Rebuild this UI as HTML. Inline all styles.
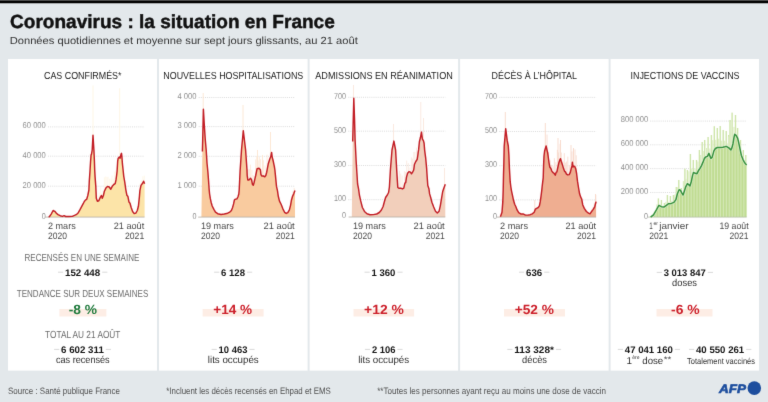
<!DOCTYPE html>
<html><head><meta charset="utf-8"><title>Coronavirus : la situation en France</title>
<style>html,body{margin:0;padding:0;background:#e3e8eb;}svg{display:block;}text{font-family:"Liberation Sans", sans-serif;}</style>
</head><body>
<svg width="768" height="402" viewBox="0 0 768 402" text-rendering="geometricPrecision">
<defs><filter id="soft" filterUnits="userSpaceOnUse" x="0" y="0" width="768" height="402" color-interpolation-filters="sRGB"><feConvolveMatrix order="3" kernelMatrix="1 10 1 10 100 10 1 10 1" divisor="144" edgeMode="duplicate"/></filter></defs>
<g filter="url(#soft)">
<rect x="0" y="0" width="768" height="402" fill="#e3e8eb"/>
<rect x="0" y="0" width="768" height="1" fill="#505050"/>
<rect x="0" y="1" width="768" height="2" fill="#000"/>
<rect x="0" y="3" width="768" height="1" fill="#a8abad"/>
<rect x="8" y="59" width="149.0" height="311.6" fill="#fff"/>
<rect x="159" y="59" width="148.6" height="311.6" fill="#fff"/>
<rect x="309.6" y="59" width="148.5" height="311.6" fill="#fff"/>
<rect x="460.1" y="59" width="148.5" height="311.6" fill="#fff"/>
<rect x="610.6" y="59" width="148.4" height="311.6" fill="#fff"/>
<text x="10.0" y="27.6" font-size="19" font-weight="bold" fill="#111" textLength="324.8" lengthAdjust="spacingAndGlyphs" stroke="#111" stroke-width="0.45">Coronavirus : la situation en France</text>
<text x="9.7" y="43.7" font-size="10.3" fill="#333" textLength="348.1" lengthAdjust="spacingAndGlyphs">Données quotidiennes et moyenne sur sept jours glissants, au 21 août</text>
<text x="44.0" y="78.7" font-size="10.2" fill="#1e1e1e" textLength="77.5" lengthAdjust="spacingAndGlyphs">CAS CONFIRMÉS*</text>
<text x="163.3" y="78.7" font-size="10.2" fill="#1e1e1e" textLength="140.0" lengthAdjust="spacingAndGlyphs">NOUVELLES HOSPITALISATIONS</text>
<text x="315.3" y="78.7" font-size="10.2" fill="#1e1e1e" textLength="137.5" lengthAdjust="spacingAndGlyphs">ADMISSIONS EN RÉANIMATION</text>
<text x="491.6" y="78.7" font-size="10.2" fill="#1e1e1e" textLength="85.4" lengthAdjust="spacingAndGlyphs">DÉCÈS À L’HÔPITAL</text>
<text x="630.5" y="78.7" font-size="10.2" fill="#1e1e1e" textLength="109.0" lengthAdjust="spacingAndGlyphs">INJECTIONS DE VACCINS</text>
<line x1="48.0" y1="126.9" x2="144.6" y2="126.9" stroke="#d8d8d8" stroke-width="0.9" stroke-dasharray="1 1.1"/>
<text x="22.6" y="128.2" font-size="8.5" fill="#8f8f8f" textLength="23.2" lengthAdjust="spacingAndGlyphs">60 000</text>
<line x1="48.0" y1="156.2" x2="144.6" y2="156.2" stroke="#d8d8d8" stroke-width="0.9" stroke-dasharray="1 1.1"/>
<text x="22.6" y="157.5" font-size="8.5" fill="#8f8f8f" textLength="23.2" lengthAdjust="spacingAndGlyphs">40 000</text>
<line x1="48.0" y1="186.2" x2="144.6" y2="186.2" stroke="#d8d8d8" stroke-width="0.9" stroke-dasharray="1 1.1"/>
<text x="22.6" y="187.5" font-size="8.5" fill="#8f8f8f" textLength="23.2" lengthAdjust="spacingAndGlyphs">20 000</text>
<text x="41.8" y="218.5" font-size="8.5" fill="#8f8f8f" textLength="4.0" lengthAdjust="spacingAndGlyphs">0</text>
<line x1="98.0" y1="202.0" x2="98.0" y2="195.5" stroke="#fef5e2" stroke-width="0.8"/>
<line x1="99.3" y1="200.5" x2="99.3" y2="192.6" stroke="#fef5e2" stroke-width="0.8"/>
<line x1="100.7" y1="197.7" x2="100.7" y2="186.9" stroke="#fef5e2" stroke-width="0.8"/>
<line x1="101.7" y1="197.3" x2="101.7" y2="193.3" stroke="#fef5e2" stroke-width="0.8"/>
<line x1="103.2" y1="196.9" x2="103.2" y2="190.2" stroke="#fef5e2" stroke-width="0.8"/>
<line x1="104.4" y1="192.3" x2="104.4" y2="177.4" stroke="#fef5e2" stroke-width="0.8"/>
<line x1="105.7" y1="189.6" x2="105.7" y2="176.4" stroke="#fef5e2" stroke-width="0.8"/>
<line x1="106.9" y1="188.0" x2="106.9" y2="177.0" stroke="#fef5e2" stroke-width="0.8"/>
<line x1="108.0" y1="187.6" x2="108.0" y2="176.7" stroke="#fef5e2" stroke-width="0.8"/>
<line x1="109.6" y1="188.5" x2="109.6" y2="178.8" stroke="#fef5e2" stroke-width="0.8"/>
<line x1="111.0" y1="189.8" x2="111.0" y2="178.5" stroke="#fef5e2" stroke-width="0.8"/>
<line x1="112.0" y1="187.8" x2="112.0" y2="175.5" stroke="#fef5e2" stroke-width="0.8"/>
<line x1="113.4" y1="185.9" x2="113.4" y2="178.8" stroke="#fef5e2" stroke-width="0.8"/>
<line x1="114.4" y1="185.2" x2="114.4" y2="171.7" stroke="#fef5e2" stroke-width="0.8"/>
<line x1="115.7" y1="182.4" x2="115.7" y2="170.5" stroke="#fef5e2" stroke-width="0.8"/>
<line x1="124.0" y1="178.7" x2="124.0" y2="173.1" stroke="#fef5e2" stroke-width="0.8"/>
<line x1="125.6" y1="188.8" x2="125.6" y2="184.7" stroke="#fef5e2" stroke-width="0.8"/>
<line x1="127.0" y1="196.4" x2="127.0" y2="192.1" stroke="#fef5e2" stroke-width="0.8"/>
<line x1="128.6" y1="201.0" x2="128.6" y2="194.6" stroke="#fef5e2" stroke-width="0.8"/>
<line x1="129.7" y1="203.8" x2="129.7" y2="201.0" stroke="#fef5e2" stroke-width="0.8"/>
<line x1="130.8" y1="207.1" x2="130.8" y2="200.3" stroke="#fef5e2" stroke-width="0.8"/>
<line x1="139.0" y1="201.7" x2="139.0" y2="193.6" stroke="#fef5e2" stroke-width="0.8"/>
<line x1="140.2" y1="190.3" x2="140.2" y2="183.2" stroke="#fef5e2" stroke-width="0.8"/>
<line x1="141.4" y1="185.9" x2="141.4" y2="180.1" stroke="#fef5e2" stroke-width="0.8"/>
<line x1="142.8" y1="184.0" x2="142.8" y2="176.3" stroke="#fef5e2" stroke-width="0.8"/>
<line x1="144.3" y1="184.0" x2="144.3" y2="175.6" stroke="#fef5e2" stroke-width="0.8"/>
<line x1="93" y1="217.1" x2="93" y2="85.5" stroke="#fef5e2" stroke-width="0.9"/>
<line x1="119.7" y1="217.1" x2="119.7" y2="88.2" stroke="#fef5e2" stroke-width="0.9"/>
<polygon points="48.2,217.1 48.6,217 49.3,216.7 51.2,214.1 53.1,210.5 54.8,211.3 56.4,213.25 58,214.6 60.2,215.7 62.4,216.4 64.1,215.7 65.7,216.5 69,216.5 72.3,216.4 74.5,215.4 76.7,214.3 78.3,212.7 80,209.7 81.6,206.7 83.2,203.7 84.3,201.5 85.6,199.9 86.7,199.3 87.8,195.5 88.9,190 89.3,181 90,171 90.6,161 91.1,154.9 91.5,154.2 92.2,150 93,135.2 93.9,150 94.4,161 94.7,170 95.1,177.1 95.8,186.4 96.3,198.2 97.4,201.2 98.8,200.7 100.4,197.1 101.5,195.5 102.3,198.2 103.4,195.5 104.4,191.2 105.9,188.1 107.5,186.4 109.2,187 110.8,189.2 112.5,185.9 113.8,184.5 115.2,183.7 116,179.9 116.6,175.5 117.1,171.1 117.7,161 118.2,158.2 119.3,157.1 120.1,158.2 121,154.4 121.5,153.3 121.9,156.6 122.4,163.7 123.1,170 123.7,176 124.8,182.3 125.8,189.6 126.9,195.3 127.9,196.4 128.4,199 129,202.1 130,203.2 131.1,207.3 132.6,211.5 134.2,213.6 135.8,213.1 137.3,210.5 138.4,206.3 139.4,196.9 139.9,190.6 141,185.4 142.6,183.3 143.6,181.2 144.6,183.8 144.6,217.1" fill="#fce4a8"/>
<line x1="45.0" y1="217.1" x2="144.6" y2="217.1" stroke="#b7b0a6" stroke-width="1" opacity="0.85"/>
<polyline points="48.6,217 49.3,216.7 51.2,214.1 53.1,210.5 54.8,211.3 56.4,213.25 58,214.6 60.2,215.7 62.4,216.4 64.1,215.7 65.7,216.5 69,216.5 72.3,216.4 74.5,215.4 76.7,214.3 78.3,212.7 80,209.7 81.6,206.7 83.2,203.7 84.3,201.5 85.6,199.9 86.7,199.3 87.8,195.5 88.9,190 89.3,181 90,171 90.6,161 91.1,154.9 91.5,154.2 92.2,150 93,135.2 93.9,150 94.4,161 94.7,170 95.1,177.1 95.8,186.4 96.3,198.2 97.4,201.2 98.8,200.7 100.4,197.1 101.5,195.5 102.3,198.2 103.4,195.5 104.4,191.2 105.9,188.1 107.5,186.4 109.2,187 110.8,189.2 112.5,185.9 113.8,184.5 115.2,183.7 116,179.9 116.6,175.5 117.1,171.1 117.7,161 118.2,158.2 119.3,157.1 120.1,158.2 121,154.4 121.5,153.3 121.9,156.6 122.4,163.7 123.1,170 123.7,176 124.8,182.3 125.8,189.6 126.9,195.3 127.9,196.4 128.4,199 129,202.1 130,203.2 131.1,207.3 132.6,211.5 134.2,213.6 135.8,213.1 137.3,210.5 138.4,206.3 139.4,196.9 139.9,190.6 141,185.4 142.6,183.3 143.6,181.2 144.6,183.8" fill="none" stroke="#c21e26" stroke-width="1.45" stroke-linejoin="round"/>
<text x="48.0" y="229.1" font-size="9.4" fill="#4a4a4a" textLength="27.7" lengthAdjust="spacingAndGlyphs">2 mars</text>
<text x="48.0" y="239.4" font-size="9.4" fill="#4a4a4a" textLength="18.9" lengthAdjust="spacingAndGlyphs">2020</text>
<text x="113.7" y="229.1" font-size="9.4" fill="#4a4a4a" textLength="30.5" lengthAdjust="spacingAndGlyphs">21 août</text>
<text x="125.0" y="239.4" font-size="9.4" fill="#4a4a4a" textLength="19.2" lengthAdjust="spacingAndGlyphs">2021</text>
<line x1="198.7" y1="97.5" x2="295.0" y2="97.5" stroke="#d8d8d8" stroke-width="0.9" stroke-dasharray="1 1.1"/>
<text x="177.4" y="98.8" font-size="8.5" fill="#8f8f8f" textLength="19.1" lengthAdjust="spacingAndGlyphs">4 000</text>
<line x1="198.7" y1="126.6" x2="295.0" y2="126.6" stroke="#d8d8d8" stroke-width="0.9" stroke-dasharray="1 1.1"/>
<text x="177.4" y="127.9" font-size="8.5" fill="#8f8f8f" textLength="19.1" lengthAdjust="spacingAndGlyphs">3 000</text>
<line x1="198.7" y1="156.3" x2="295.0" y2="156.3" stroke="#d8d8d8" stroke-width="0.9" stroke-dasharray="1 1.1"/>
<text x="177.4" y="157.6" font-size="8.5" fill="#8f8f8f" textLength="19.1" lengthAdjust="spacingAndGlyphs">2 000</text>
<line x1="198.7" y1="186.2" x2="295.0" y2="186.2" stroke="#d8d8d8" stroke-width="0.9" stroke-dasharray="1 1.1"/>
<text x="177.4" y="187.5" font-size="8.5" fill="#8f8f8f" textLength="19.1" lengthAdjust="spacingAndGlyphs">1 000</text>
<text x="192.5" y="218.5" font-size="8.5" fill="#8f8f8f" textLength="4.0" lengthAdjust="spacingAndGlyphs">0</text>
<line x1="248.0" y1="180.9" x2="248.0" y2="169.4" stroke="#fce5d0" stroke-width="0.8"/>
<line x1="249.3" y1="180.7" x2="249.3" y2="169.1" stroke="#fce5d0" stroke-width="0.8"/>
<line x1="250.4" y1="179.3" x2="250.4" y2="164.7" stroke="#fce5d0" stroke-width="0.8"/>
<line x1="251.9" y1="182.4" x2="251.9" y2="169.8" stroke="#fce5d0" stroke-width="0.8"/>
<line x1="253.0" y1="185.9" x2="253.0" y2="175.0" stroke="#fce5d0" stroke-width="0.8"/>
<line x1="254.2" y1="183.3" x2="254.2" y2="175.9" stroke="#fce5d0" stroke-width="0.8"/>
<line x1="255.7" y1="176.3" x2="255.7" y2="159.4" stroke="#fce5d0" stroke-width="0.8"/>
<line x1="256.8" y1="171.3" x2="256.8" y2="156.1" stroke="#fce5d0" stroke-width="0.8"/>
<line x1="258.1" y1="169.4" x2="258.1" y2="160.4" stroke="#fce5d0" stroke-width="0.8"/>
<line x1="259.3" y1="169.6" x2="259.3" y2="156.8" stroke="#fce5d0" stroke-width="0.8"/>
<line x1="260.6" y1="172.3" x2="260.6" y2="159.3" stroke="#fce5d0" stroke-width="0.8"/>
<line x1="262.0" y1="177.0" x2="262.0" y2="171.1" stroke="#fce5d0" stroke-width="0.8"/>
<line x1="263.4" y1="177.0" x2="263.4" y2="160.2" stroke="#fce5d0" stroke-width="0.8"/>
<line x1="265.0" y1="177.5" x2="265.0" y2="165.5" stroke="#fce5d0" stroke-width="0.8"/>
<line x1="266.0" y1="175.6" x2="266.0" y2="171.4" stroke="#fce5d0" stroke-width="0.8"/>
<line x1="267.1" y1="171.0" x2="267.1" y2="154.7" stroke="#fce5d0" stroke-width="0.8"/>
<line x1="272.0" y1="156.8" x2="272.0" y2="151.8" stroke="#fce5d0" stroke-width="0.8"/>
<line x1="273.5" y1="163.7" x2="273.5" y2="159.1" stroke="#fce5d0" stroke-width="0.8"/>
<line x1="274.9" y1="170.8" x2="274.9" y2="165.4" stroke="#fce5d0" stroke-width="0.8"/>
<line x1="275.9" y1="181.3" x2="275.9" y2="175.0" stroke="#fce5d0" stroke-width="0.8"/>
<line x1="292.0" y1="199.3" x2="292.0" y2="195.7" stroke="#fce5d0" stroke-width="0.8"/>
<line x1="293.1" y1="196.1" x2="293.1" y2="190.9" stroke="#fce5d0" stroke-width="0.8"/>
<line x1="294.2" y1="193.6" x2="294.2" y2="187.9" stroke="#fce5d0" stroke-width="0.8"/>
<line x1="203.2" y1="217.1" x2="203.2" y2="93" stroke="#fce5d0" stroke-width="0.9"/>
<line x1="243" y1="217.1" x2="243" y2="105" stroke="#fce5d0" stroke-width="0.9"/>
<line x1="270.5" y1="217.1" x2="270.5" y2="132" stroke="#fce5d0" stroke-width="0.9"/>
<line x1="257.5" y1="217.1" x2="257.5" y2="150" stroke="#fce5d0" stroke-width="0.9"/>
<line x1="262.5" y1="217.1" x2="262.5" y2="155" stroke="#fce5d0" stroke-width="0.9"/>
<polygon points="201.4,217.1 202.4,151.6 202.7,140 203.4,109.3 204.3,125 205.3,140 206.2,150 207,163 207.9,172 208.5,180 209.2,190 209.6,194 210.3,198.4 211.1,202.2 212.2,206 213.9,209.3 215.5,212.1 217.7,213.7 221,214.5 224.3,214 227.6,213.2 229.8,212.1 231.4,210.4 232.5,207.7 233.6,203.9 234.4,200 235.2,199.2 236.9,198.9 238,196.7 238.8,194 239.2,190 240.1,171 241.5,150 243.3,130.8 245.6,150 247,170 247.2,175.5 247.8,179.9 249.1,179.9 250.5,178.2 251.6,179.9 252.4,184.2 253.3,185.3 254.1,182.6 254.9,178.8 255.7,175.5 256.5,171.6 257.1,168.6 259,168.3 260.4,169.7 260.9,174.4 261.7,176 263.4,176 264.8,176.8 265.8,175.5 266.7,172.2 268.3,163.7 269.7,159.3 270.8,156.6 271.6,152.5 272.1,156.6 273.2,161 274.3,166.4 274.9,170 275.7,178.2 276.5,186.4 277.5,190.8 278.3,196.3 279.5,201.1 281.1,204.3 283,209.1 284.6,212.3 286.2,213.4 287.8,212.7 289.4,209.9 290.6,205.1 291.4,200.3 292.6,196.3 293.8,193.6 295,190.4 295,217.1" fill="#f9cb9f"/>
<line x1="198.2" y1="217.1" x2="295.0" y2="217.1" stroke="#b7b0a6" stroke-width="1" opacity="0.85"/>
<polyline points="202.4,151.6 202.7,140 203.4,109.3 204.3,125 205.3,140 206.2,150 207,163 207.9,172 208.5,180 209.2,190 209.6,194 210.3,198.4 211.1,202.2 212.2,206 213.9,209.3 215.5,212.1 217.7,213.7 221,214.5 224.3,214 227.6,213.2 229.8,212.1 231.4,210.4 232.5,207.7 233.6,203.9 234.4,200 235.2,199.2 236.9,198.9 238,196.7 238.8,194 239.2,190 240.1,171 241.5,150 243.3,130.8 245.6,150 247,170 247.2,175.5 247.8,179.9 249.1,179.9 250.5,178.2 251.6,179.9 252.4,184.2 253.3,185.3 254.1,182.6 254.9,178.8 255.7,175.5 256.5,171.6 257.1,168.6 259,168.3 260.4,169.7 260.9,174.4 261.7,176 263.4,176 264.8,176.8 265.8,175.5 266.7,172.2 268.3,163.7 269.7,159.3 270.8,156.6 271.6,152.5 272.1,156.6 273.2,161 274.3,166.4 274.9,170 275.7,178.2 276.5,186.4 277.5,190.8 278.3,196.3 279.5,201.1 281.1,204.3 283,209.1 284.6,212.3 286.2,213.4 287.8,212.7 289.4,209.9 290.6,205.1 291.4,200.3 292.6,196.3 293.8,193.6 295,190.4" fill="none" stroke="#c21e26" stroke-width="1.45" stroke-linejoin="round"/>
<text x="201.0" y="229.1" font-size="9.4" fill="#4a4a4a" textLength="32.8" lengthAdjust="spacingAndGlyphs">19 mars</text>
<text x="201.0" y="239.4" font-size="9.4" fill="#4a4a4a" textLength="18.9" lengthAdjust="spacingAndGlyphs">2020</text>
<text x="263.5" y="229.1" font-size="9.4" fill="#4a4a4a" textLength="31.2" lengthAdjust="spacingAndGlyphs">21 août</text>
<text x="275.7" y="239.4" font-size="9.4" fill="#4a4a4a" textLength="19.0" lengthAdjust="spacingAndGlyphs">2021</text>
<line x1="348.3" y1="97.3" x2="445.3" y2="97.3" stroke="#d8d8d8" stroke-width="0.9" stroke-dasharray="1 1.1"/>
<text x="334.1" y="98.6" font-size="8.5" fill="#8f8f8f" textLength="12.0" lengthAdjust="spacingAndGlyphs">700</text>
<line x1="348.3" y1="131.2" x2="445.3" y2="131.2" stroke="#d8d8d8" stroke-width="0.9" stroke-dasharray="1 1.1"/>
<text x="334.1" y="132.5" font-size="8.5" fill="#8f8f8f" textLength="12.0" lengthAdjust="spacingAndGlyphs">500</text>
<line x1="348.3" y1="165.5" x2="445.3" y2="165.5" stroke="#d8d8d8" stroke-width="0.9" stroke-dasharray="1 1.1"/>
<text x="334.1" y="166.8" font-size="8.5" fill="#8f8f8f" textLength="12.0" lengthAdjust="spacingAndGlyphs">300</text>
<line x1="348.3" y1="199.7" x2="445.3" y2="199.7" stroke="#d8d8d8" stroke-width="0.9" stroke-dasharray="1 1.1"/>
<text x="334.1" y="201.0" font-size="8.5" fill="#8f8f8f" textLength="12.0" lengthAdjust="spacingAndGlyphs">100</text>
<text x="342.1" y="218.4" font-size="8.5" fill="#8f8f8f" textLength="4.0" lengthAdjust="spacingAndGlyphs">0</text>
<line x1="398.0" y1="188.6" x2="398.0" y2="176.5" stroke="#f9e6dc" stroke-width="0.8"/>
<line x1="399.5" y1="189.3" x2="399.5" y2="170.8" stroke="#f9e6dc" stroke-width="0.8"/>
<line x1="400.7" y1="189.1" x2="400.7" y2="173.5" stroke="#f9e6dc" stroke-width="0.8"/>
<line x1="402.1" y1="189.7" x2="402.1" y2="175.6" stroke="#f9e6dc" stroke-width="0.8"/>
<line x1="403.1" y1="189.5" x2="403.1" y2="184.5" stroke="#f9e6dc" stroke-width="0.8"/>
<line x1="404.4" y1="186.5" x2="404.4" y2="171.1" stroke="#f9e6dc" stroke-width="0.8"/>
<line x1="405.5" y1="183.7" x2="405.5" y2="171.9" stroke="#f9e6dc" stroke-width="0.8"/>
<line x1="406.7" y1="177.3" x2="406.7" y2="160.6" stroke="#f9e6dc" stroke-width="0.8"/>
<line x1="408.3" y1="173.5" x2="408.3" y2="163.1" stroke="#f9e6dc" stroke-width="0.8"/>
<line x1="409.9" y1="173.0" x2="409.9" y2="167.5" stroke="#f9e6dc" stroke-width="0.8"/>
<line x1="411.4" y1="174.6" x2="411.4" y2="157.4" stroke="#f9e6dc" stroke-width="0.8"/>
<line x1="412.5" y1="173.4" x2="412.5" y2="158.6" stroke="#f9e6dc" stroke-width="0.8"/>
<line x1="413.8" y1="170.3" x2="413.8" y2="151.9" stroke="#f9e6dc" stroke-width="0.8"/>
<line x1="414.9" y1="164.3" x2="414.9" y2="151.9" stroke="#f9e6dc" stroke-width="0.8"/>
<line x1="416.5" y1="161.5" x2="416.5" y2="147.7" stroke="#f9e6dc" stroke-width="0.8"/>
<line x1="417.6" y1="157.5" x2="417.6" y2="151.7" stroke="#f9e6dc" stroke-width="0.8"/>
<line x1="425.0" y1="154.0" x2="425.0" y2="147.2" stroke="#f9e6dc" stroke-width="0.8"/>
<line x1="426.6" y1="169.0" x2="426.6" y2="164.8" stroke="#f9e6dc" stroke-width="0.8"/>
<line x1="353.5" y1="217.0" x2="353.5" y2="85" stroke="#f9e6dc" stroke-width="0.9"/>
<line x1="393.5" y1="217.0" x2="393.5" y2="124" stroke="#f9e6dc" stroke-width="0.9"/>
<line x1="420.8" y1="217.0" x2="420.8" y2="102" stroke="#f9e6dc" stroke-width="0.9"/>
<line x1="423.5" y1="217.0" x2="423.5" y2="118" stroke="#f9e6dc" stroke-width="0.9"/>
<line x1="444.5" y1="217.0" x2="444.5" y2="168" stroke="#f9e6dc" stroke-width="0.9"/>
<polygon points="351.8,217.0 352.7,141.6 353.8,98.3 354.5,118 355.1,140 355.6,150 356.2,162 356.9,173 357.6,184 358.6,189.1 359.4,195 360.7,200.9 362.4,207.5 364.5,211.4 367,213.8 370,214.7 373.4,214.6 376.7,214 379.3,212.5 381.4,210 383.1,206.5 384.3,202 385.6,197.5 387.3,195 388.6,192.5 389.4,187 390.4,170 392,150 393.9,141.1 395.6,150 396.7,170 397.2,178.2 397.8,187.5 399.1,188.3 400.8,188.1 402.4,188.9 403.8,188.1 404.9,183.1 405.7,182.6 406.5,177.1 407.6,173.3 409,171.6 410.4,172.2 411.5,173.8 412.6,172.2 413.7,170 414.5,164.2 415.8,161.5 417.2,159.3 417.8,155.5 418.3,151.6 418.6,149.9 419.4,141.7 420.5,137.3 421.5,132.1 422.4,139 423.5,140.9 424.1,143.3 424.6,150 425.7,158.2 426.6,168 427.2,177.2 427.8,185.5 429,189.1 429.6,193.9 430.7,197.5 431.9,202.2 433.7,207 435.5,211.2 437.3,213 439.1,211.2 440.3,205.8 441.5,198.7 442.7,191.5 443.9,187.9 445.3,184.3 445.3,217.0" fill="#f2cfbb"/>
<line x1="348.6" y1="217.0" x2="445.3" y2="217.0" stroke="#b7b0a6" stroke-width="1" opacity="0.85"/>
<polyline points="352.7,141.6 353.8,98.3 354.5,118 355.1,140 355.6,150 356.2,162 356.9,173 357.6,184 358.6,189.1 359.4,195 360.7,200.9 362.4,207.5 364.5,211.4 367,213.8 370,214.7 373.4,214.6 376.7,214 379.3,212.5 381.4,210 383.1,206.5 384.3,202 385.6,197.5 387.3,195 388.6,192.5 389.4,187 390.4,170 392,150 393.9,141.1 395.6,150 396.7,170 397.2,178.2 397.8,187.5 399.1,188.3 400.8,188.1 402.4,188.9 403.8,188.1 404.9,183.1 405.7,182.6 406.5,177.1 407.6,173.3 409,171.6 410.4,172.2 411.5,173.8 412.6,172.2 413.7,170 414.5,164.2 415.8,161.5 417.2,159.3 417.8,155.5 418.3,151.6 418.6,149.9 419.4,141.7 420.5,137.3 421.5,132.1 422.4,139 423.5,140.9 424.1,143.3 424.6,150 425.7,158.2 426.6,168 427.2,177.2 427.8,185.5 429,189.1 429.6,193.9 430.7,197.5 431.9,202.2 433.7,207 435.5,211.2 437.3,213 439.1,211.2 440.3,205.8 441.5,198.7 442.7,191.5 443.9,187.9 445.3,184.3" fill="none" stroke="#c21e26" stroke-width="1.45" stroke-linejoin="round"/>
<text x="353.0" y="229.1" font-size="9.4" fill="#4a4a4a" textLength="32.8" lengthAdjust="spacingAndGlyphs">19 mars</text>
<text x="353.0" y="239.4" font-size="9.4" fill="#4a4a4a" textLength="18.9" lengthAdjust="spacingAndGlyphs">2020</text>
<text x="413.5" y="229.1" font-size="9.4" fill="#4a4a4a" textLength="31.2" lengthAdjust="spacingAndGlyphs">21 août</text>
<text x="425.7" y="239.4" font-size="9.4" fill="#4a4a4a" textLength="19.0" lengthAdjust="spacingAndGlyphs">2021</text>
<line x1="499.3" y1="97.4" x2="596.1" y2="97.4" stroke="#d8d8d8" stroke-width="0.9" stroke-dasharray="1 1.1"/>
<text x="485.1" y="98.7" font-size="8.5" fill="#8f8f8f" textLength="12.0" lengthAdjust="spacingAndGlyphs">700</text>
<line x1="499.3" y1="131.5" x2="596.1" y2="131.5" stroke="#d8d8d8" stroke-width="0.9" stroke-dasharray="1 1.1"/>
<text x="485.1" y="132.8" font-size="8.5" fill="#8f8f8f" textLength="12.0" lengthAdjust="spacingAndGlyphs">500</text>
<line x1="499.3" y1="165.7" x2="596.1" y2="165.7" stroke="#d8d8d8" stroke-width="0.9" stroke-dasharray="1 1.1"/>
<text x="485.1" y="167.0" font-size="8.5" fill="#8f8f8f" textLength="12.0" lengthAdjust="spacingAndGlyphs">300</text>
<line x1="499.3" y1="199.9" x2="596.1" y2="199.9" stroke="#d8d8d8" stroke-width="0.9" stroke-dasharray="1 1.1"/>
<text x="485.1" y="201.2" font-size="8.5" fill="#8f8f8f" textLength="12.0" lengthAdjust="spacingAndGlyphs">100</text>
<text x="493.1" y="218.5" font-size="8.5" fill="#8f8f8f" textLength="4.0" lengthAdjust="spacingAndGlyphs">0</text>
<line x1="547.0" y1="151.0" x2="547.0" y2="134.6" stroke="#f7d8ca" stroke-width="0.8"/>
<line x1="548.5" y1="159.8" x2="548.5" y2="151.9" stroke="#f7d8ca" stroke-width="0.8"/>
<line x1="550.1" y1="168.4" x2="550.1" y2="160.3" stroke="#f7d8ca" stroke-width="0.8"/>
<line x1="551.5" y1="171.3" x2="551.5" y2="164.8" stroke="#f7d8ca" stroke-width="0.8"/>
<line x1="553.0" y1="173.5" x2="553.0" y2="166.1" stroke="#f7d8ca" stroke-width="0.8"/>
<line x1="554.4" y1="174.8" x2="554.4" y2="158.2" stroke="#f7d8ca" stroke-width="0.8"/>
<line x1="555.8" y1="174.3" x2="555.8" y2="162.2" stroke="#f7d8ca" stroke-width="0.8"/>
<line x1="557.4" y1="170.6" x2="557.4" y2="149.8" stroke="#f7d8ca" stroke-width="0.8"/>
<line x1="558.4" y1="165.7" x2="558.4" y2="152.5" stroke="#f7d8ca" stroke-width="0.8"/>
<line x1="560.0" y1="160.6" x2="560.0" y2="143.8" stroke="#f7d8ca" stroke-width="0.8"/>
<line x1="561.3" y1="162.4" x2="561.3" y2="152.5" stroke="#f7d8ca" stroke-width="0.8"/>
<line x1="562.8" y1="167.2" x2="562.8" y2="160.9" stroke="#f7d8ca" stroke-width="0.8"/>
<line x1="564.3" y1="171.6" x2="564.3" y2="153.1" stroke="#f7d8ca" stroke-width="0.8"/>
<line x1="565.4" y1="172.9" x2="565.4" y2="162.7" stroke="#f7d8ca" stroke-width="0.8"/>
<line x1="566.6" y1="175.1" x2="566.6" y2="161.5" stroke="#f7d8ca" stroke-width="0.8"/>
<line x1="567.8" y1="175.9" x2="567.8" y2="156.6" stroke="#f7d8ca" stroke-width="0.8"/>
<line x1="569.4" y1="175.3" x2="569.4" y2="165.2" stroke="#f7d8ca" stroke-width="0.8"/>
<line x1="570.9" y1="171.0" x2="570.9" y2="164.8" stroke="#f7d8ca" stroke-width="0.8"/>
<line x1="571.9" y1="167.1" x2="571.9" y2="151.4" stroke="#f7d8ca" stroke-width="0.8"/>
<line x1="573.4" y1="167.6" x2="573.4" y2="149.5" stroke="#f7d8ca" stroke-width="0.8"/>
<line x1="575.0" y1="168.2" x2="575.0" y2="149.4" stroke="#f7d8ca" stroke-width="0.8"/>
<line x1="576.2" y1="172.2" x2="576.2" y2="155.3" stroke="#f7d8ca" stroke-width="0.8"/>
<line x1="592.0" y1="212.0" x2="592.0" y2="208.8" stroke="#f7d8ca" stroke-width="0.8"/>
<line x1="593.3" y1="210.2" x2="593.3" y2="206.6" stroke="#f7d8ca" stroke-width="0.8"/>
<line x1="594.4" y1="208.4" x2="594.4" y2="202.7" stroke="#f7d8ca" stroke-width="0.8"/>
<line x1="595.8" y1="203.8" x2="595.8" y2="194.9" stroke="#f7d8ca" stroke-width="0.8"/>
<line x1="505.3" y1="217.1" x2="505.3" y2="112" stroke="#f7d8ca" stroke-width="0.9"/>
<line x1="545.3" y1="217.1" x2="545.3" y2="123" stroke="#f7d8ca" stroke-width="0.9"/>
<line x1="558" y1="217.1" x2="558" y2="138" stroke="#f7d8ca" stroke-width="0.9"/>
<line x1="560.5" y1="217.1" x2="560.5" y2="140" stroke="#f7d8ca" stroke-width="0.9"/>
<line x1="571" y1="217.1" x2="571" y2="145" stroke="#f7d8ca" stroke-width="0.9"/>
<line x1="573.5" y1="217.1" x2="573.5" y2="148" stroke="#f7d8ca" stroke-width="0.9"/>
<line x1="595.5" y1="217.1" x2="595.5" y2="194" stroke="#f7d8ca" stroke-width="0.9"/>
<line x1="534.8" y1="217.1" x2="534.8" y2="200" stroke="#f7d8ca" stroke-width="0.9"/>
<polygon points="500.2,217.1 500.4,216.7 502,212.3 502.8,201.9 503.2,190 503.5,175 503.8,165 504.2,146 505.7,128.7 507.2,140.4 508.3,146 508.9,155 509.4,168 510.2,181.7 510.8,186.5 511.5,190.8 512.7,196.4 513.5,200.3 514.7,204.3 515.9,206.7 517.1,209.9 518.7,212.7 520.7,213.9 523.1,213.9 525.5,215.1 527.8,215.1 530.2,214.7 532.2,213.9 534.2,212.3 535.4,209.1 536.6,208.3 538.2,207.5 539.4,205.9 540.2,201.9 541,196.4 541.8,190 542.2,186 543.2,177.9 543.6,165 544,156 544.6,151 546.1,146 547.6,152.6 548.2,156.5 549,162.6 549.8,167 550.9,168.6 551.7,170.8 552.8,172.4 554.2,173.5 555.3,175.2 556.1,172.4 556.9,171.9 557.7,168 558.8,163.1 559.9,159.8 560.5,158.7 561.3,161.5 562.1,163.7 562.9,166.4 563.7,169.1 564.6,171.3 565.4,171.9 566.5,174.1 567.8,174.9 569.2,174.6 570.3,172.4 571.1,169.1 572,165.9 572.4,162.3 573,167 573.9,166.1 574.7,166.4 575.8,169.1 576.6,173.5 577.5,181.2 578.5,187.5 579.6,193.8 580.6,196.9 581.7,199 582.7,204.7 584.3,208.4 586.4,211.5 588.5,213.1 590,213.8 591.6,211.5 593.2,209.4 594.7,206.8 596.1,201.6 596.1,217.1" fill="#efae91"/>
<line x1="497.0" y1="217.1" x2="596.1" y2="217.1" stroke="#b7b0a6" stroke-width="1" opacity="0.85"/>
<polyline points="500.4,216.7 502,212.3 502.8,201.9 503.2,190 503.5,175 503.8,165 504.2,146 505.7,128.7 507.2,140.4 508.3,146 508.9,155 509.4,168 510.2,181.7 510.8,186.5 511.5,190.8 512.7,196.4 513.5,200.3 514.7,204.3 515.9,206.7 517.1,209.9 518.7,212.7 520.7,213.9 523.1,213.9 525.5,215.1 527.8,215.1 530.2,214.7 532.2,213.9 534.2,212.3 535.4,209.1 536.6,208.3 538.2,207.5 539.4,205.9 540.2,201.9 541,196.4 541.8,190 542.2,186 543.2,177.9 543.6,165 544,156 544.6,151 546.1,146 547.6,152.6 548.2,156.5 549,162.6 549.8,167 550.9,168.6 551.7,170.8 552.8,172.4 554.2,173.5 555.3,175.2 556.1,172.4 556.9,171.9 557.7,168 558.8,163.1 559.9,159.8 560.5,158.7 561.3,161.5 562.1,163.7 562.9,166.4 563.7,169.1 564.6,171.3 565.4,171.9 566.5,174.1 567.8,174.9 569.2,174.6 570.3,172.4 571.1,169.1 572,165.9 572.4,162.3 573,167 573.9,166.1 574.7,166.4 575.8,169.1 576.6,173.5 577.5,181.2 578.5,187.5 579.6,193.8 580.6,196.9 581.7,199 582.7,204.7 584.3,208.4 586.4,211.5 588.5,213.1 590,213.8 591.6,211.5 593.2,209.4 594.7,206.8 596.1,201.6" fill="none" stroke="#c21e26" stroke-width="1.45" stroke-linejoin="round"/>
<text x="500.0" y="229.1" font-size="9.4" fill="#4a4a4a" textLength="28.0" lengthAdjust="spacingAndGlyphs">2 mars</text>
<text x="500.0" y="239.4" font-size="9.4" fill="#4a4a4a" textLength="18.9" lengthAdjust="spacingAndGlyphs">2020</text>
<text x="565.4" y="229.1" font-size="9.4" fill="#4a4a4a" textLength="30.7" lengthAdjust="spacingAndGlyphs">21 août</text>
<text x="577.1" y="239.4" font-size="9.4" fill="#4a4a4a" textLength="19.0" lengthAdjust="spacingAndGlyphs">2021</text>
<line x1="650.2" y1="121.1" x2="746" y2="121.1" stroke="#d8d8d8" stroke-width="0.9" stroke-dasharray="1 1.1"/>
<text x="620.8" y="122.4" font-size="8.5" fill="#8f8f8f" textLength="27.3" lengthAdjust="spacingAndGlyphs">800 000</text>
<line x1="650.2" y1="144.8" x2="746" y2="144.8" stroke="#d8d8d8" stroke-width="0.9" stroke-dasharray="1 1.1"/>
<text x="620.8" y="146.1" font-size="8.5" fill="#8f8f8f" textLength="27.3" lengthAdjust="spacingAndGlyphs">600 000</text>
<line x1="650.2" y1="168.6" x2="746" y2="168.6" stroke="#d8d8d8" stroke-width="0.9" stroke-dasharray="1 1.1"/>
<text x="620.8" y="169.9" font-size="8.5" fill="#8f8f8f" textLength="27.3" lengthAdjust="spacingAndGlyphs">400 000</text>
<line x1="650.2" y1="192.5" x2="746" y2="192.5" stroke="#d8d8d8" stroke-width="0.9" stroke-dasharray="1 1.1"/>
<text x="620.8" y="193.8" font-size="8.5" fill="#8f8f8f" textLength="27.3" lengthAdjust="spacingAndGlyphs">200 000</text>
<text x="644.1" y="218.5" font-size="8.5" fill="#8f8f8f" textLength="4.0" lengthAdjust="spacingAndGlyphs">0</text>
<defs><pattern id="vs" patternUnits="userSpaceOnUse" x="650.6" y="0" width="2.93" height="20"><rect width="2.93" height="20" fill="#c0dc93"/><rect x="2.0" width="0.93" height="20" fill="#d7eabb"/></pattern></defs>
<rect x="657.7" y="198.4" width="1.4" height="18.7" fill="#cfe5ab"/>
<rect x="656.3" y="204.4" width="1.2" height="12.7" fill="#dcecc2"/>
<rect x="660.7" y="200" width="1.4" height="17.1" fill="#cfe5ab"/>
<rect x="659.3" y="205.3" width="1.2" height="11.8" fill="#dcecc2"/>
<rect x="663.7" y="203" width="1.4" height="14.1" fill="#cfe5ab"/>
<rect x="662.3" y="206.9" width="1.2" height="10.2" fill="#dcecc2"/>
<rect x="666.7" y="195" width="1.4" height="22.1" fill="#cfe5ab"/>
<rect x="665.3" y="201.8" width="1.2" height="15.3" fill="#dcecc2"/>
<rect x="669.7" y="196" width="1.4" height="21.1" fill="#cfe5ab"/>
<rect x="668.3" y="201.8" width="1.2" height="15.3" fill="#dcecc2"/>
<rect x="672.7" y="195" width="1.4" height="22.1" fill="#cfe5ab"/>
<rect x="671.3" y="200.8" width="1.2" height="16.3" fill="#dcecc2"/>
<rect x="675.6" y="187" width="1.4" height="30.1" fill="#cfe5ab"/>
<rect x="674.2" y="194.5" width="1.2" height="22.6" fill="#dcecc2"/>
<rect x="678.1" y="180" width="1.4" height="37.1" fill="#cfe5ab"/>
<rect x="676.7" y="187.2" width="1.2" height="29.9" fill="#dcecc2"/>
<rect x="680.6" y="188" width="1.4" height="29.1" fill="#cfe5ab"/>
<rect x="679.2" y="192.0" width="1.2" height="25.1" fill="#dcecc2"/>
<rect x="684.2" y="168.7" width="1.4" height="48.4" fill="#cfe5ab"/>
<rect x="682.8" y="181.1" width="1.2" height="36.0" fill="#dcecc2"/>
<rect x="686.7" y="170" width="1.4" height="47.1" fill="#cfe5ab"/>
<rect x="685.3" y="178.8" width="1.2" height="38.2" fill="#dcecc2"/>
<rect x="689.7" y="154" width="1.4" height="63.1" fill="#cfe5ab"/>
<rect x="688.3" y="171.3" width="1.2" height="45.8" fill="#dcecc2"/>
<rect x="692.6" y="160" width="1.4" height="57.1" fill="#cfe5ab"/>
<rect x="691.2" y="168.5" width="1.2" height="48.6" fill="#dcecc2"/>
<rect x="695.8" y="160" width="1.4" height="57.1" fill="#cfe5ab"/>
<rect x="694.4" y="168.8" width="1.2" height="48.3" fill="#dcecc2"/>
<rect x="698.7" y="150" width="1.4" height="67.1" fill="#cfe5ab"/>
<rect x="697.3" y="161.6" width="1.2" height="55.5" fill="#dcecc2"/>
<rect x="701.5" y="142" width="1.4" height="75.1" fill="#cfe5ab"/>
<rect x="700.1" y="155.0" width="1.2" height="62.1" fill="#dcecc2"/>
<rect x="704.0" y="140" width="1.4" height="77.1" fill="#cfe5ab"/>
<rect x="702.6" y="151.0" width="1.2" height="66.1" fill="#dcecc2"/>
<rect x="707.4" y="137" width="1.4" height="80.1" fill="#cfe5ab"/>
<rect x="706.0" y="148.0" width="1.2" height="69.1" fill="#dcecc2"/>
<rect x="710.7" y="135" width="1.4" height="82.1" fill="#cfe5ab"/>
<rect x="709.3" y="148.5" width="1.2" height="68.6" fill="#dcecc2"/>
<rect x="713.6" y="126.2" width="1.4" height="90.9" fill="#cfe5ab"/>
<rect x="712.2" y="140.2" width="1.2" height="76.9" fill="#dcecc2"/>
<rect x="716.6" y="128" width="1.4" height="89.1" fill="#cfe5ab"/>
<rect x="715.2" y="139.8" width="1.2" height="77.3" fill="#dcecc2"/>
<rect x="719.5" y="126" width="1.4" height="91.1" fill="#cfe5ab"/>
<rect x="718.1" y="138.7" width="1.2" height="78.4" fill="#dcecc2"/>
<rect x="722.5" y="130" width="1.4" height="87.1" fill="#cfe5ab"/>
<rect x="721.1" y="140.6" width="1.2" height="76.5" fill="#dcecc2"/>
<rect x="725.5" y="131" width="1.4" height="86.1" fill="#cfe5ab"/>
<rect x="724.1" y="140.7" width="1.2" height="76.4" fill="#dcecc2"/>
<rect x="728.0" y="135" width="1.4" height="82.1" fill="#cfe5ab"/>
<rect x="726.6" y="143.4" width="1.2" height="73.7" fill="#dcecc2"/>
<rect x="729.3" y="120" width="1.4" height="97.1" fill="#cfe5ab"/>
<rect x="727.9" y="136.5" width="1.2" height="80.6" fill="#dcecc2"/>
<rect x="731.4" y="112.6" width="1.4" height="104.5" fill="#cfe5ab"/>
<rect x="730.0" y="131.9" width="1.2" height="85.2" fill="#dcecc2"/>
<rect x="734.8" y="115" width="1.4" height="102.1" fill="#cfe5ab"/>
<rect x="733.4" y="126.9" width="1.2" height="90.2" fill="#dcecc2"/>
<rect x="736.9" y="128" width="1.4" height="89.1" fill="#cfe5ab"/>
<rect x="735.5" y="135.1" width="1.2" height="82.0" fill="#dcecc2"/>
<rect x="739.8" y="140" width="1.4" height="77.1" fill="#cfe5ab"/>
<rect x="738.4" y="147.7" width="1.2" height="69.4" fill="#dcecc2"/>
<rect x="742.6" y="150" width="1.4" height="67.1" fill="#cfe5ab"/>
<rect x="741.2" y="157.0" width="1.2" height="60.1" fill="#dcecc2"/>
<rect x="745.1" y="155" width="1.4" height="62.1" fill="#cfe5ab"/>
<rect x="743.7" y="161.6" width="1.2" height="55.5" fill="#dcecc2"/>
<polygon points="650.3,217.1 650.6,217.2 653.5,214.8 656.4,209.9 658.9,205.4 661.4,206.7 663.9,207.1 666.4,205.4 668.4,203.7 671.4,203.4 673.9,202.4 675.9,199.6 677.4,193.7 679.1,189.8 680.4,190.2 681.7,192.9 683.1,195 684.4,191.1 685.7,186.8 687.4,183.7 688.7,184.6 690,185.9 691.3,181.5 692.6,175.4 693.5,172.4 695.2,173.3 697,173.7 698.7,170.2 700,168.4 701.4,165.9 702.9,162.4 704.4,158.4 705.9,156.9 707.4,156.4 708.9,153.4 709.9,155.9 710.9,158.4 712.1,157.4 713.1,153.9 713.9,150.9 715.4,148.5 717.4,147.5 719.9,147.5 722.8,147.2 724.8,146.8 726.3,146.4 728.8,147.9 730.9,149.9 731.9,147.9 733,143.7 734,137.4 734.7,134.3 736.1,135.3 737.7,138.4 738.7,142.6 740,148.9 741.3,155.2 742.9,159.3 744.5,162.5 746.6,165.1 746.7,217.1" fill="url(#vs)"/>
<line x1="648" y1="217.1" x2="746.7" y2="217.1" stroke="#b5bfa8" stroke-width="1" opacity="0.8"/>
<polyline points="650.6,217.2 653.5,214.8 656.4,209.9 658.9,205.4 661.4,206.7 663.9,207.1 666.4,205.4 668.4,203.7 671.4,203.4 673.9,202.4 675.9,199.6 677.4,193.7 679.1,189.8 680.4,190.2 681.7,192.9 683.1,195 684.4,191.1 685.7,186.8 687.4,183.7 688.7,184.6 690,185.9 691.3,181.5 692.6,175.4 693.5,172.4 695.2,173.3 697,173.7 698.7,170.2 700,168.4 701.4,165.9 702.9,162.4 704.4,158.4 705.9,156.9 707.4,156.4 708.9,153.4 709.9,155.9 710.9,158.4 712.1,157.4 713.1,153.9 713.9,150.9 715.4,148.5 717.4,147.5 719.9,147.5 722.8,147.2 724.8,146.8 726.3,146.4 728.8,147.9 730.9,149.9 731.9,147.9 733,143.7 734,137.4 734.7,134.3 736.1,135.3 737.7,138.4 738.7,142.6 740,148.9 741.3,155.2 742.9,159.3 744.5,162.5 746.6,165.1" fill="none" stroke="#e9f4df" stroke-width="2.6" stroke-linejoin="round" opacity="0.7"/>
<polyline points="650.6,217.2 653.5,214.8 656.4,209.9 658.9,205.4 661.4,206.7 663.9,207.1 666.4,205.4 668.4,203.7 671.4,203.4 673.9,202.4 675.9,199.6 677.4,193.7 679.1,189.8 680.4,190.2 681.7,192.9 683.1,195 684.4,191.1 685.7,186.8 687.4,183.7 688.7,184.6 690,185.9 691.3,181.5 692.6,175.4 693.5,172.4 695.2,173.3 697,173.7 698.7,170.2 700,168.4 701.4,165.9 702.9,162.4 704.4,158.4 705.9,156.9 707.4,156.4 708.9,153.4 709.9,155.9 710.9,158.4 712.1,157.4 713.1,153.9 713.9,150.9 715.4,148.5 717.4,147.5 719.9,147.5 722.8,147.2 724.8,146.8 726.3,146.4 728.8,147.9 730.9,149.9 731.9,147.9 733,143.7 734,137.4 734.7,134.3 736.1,135.3 737.7,138.4 738.7,142.6 740,148.9 741.3,155.2 742.9,159.3 744.5,162.5 746.6,165.1" fill="none" stroke="#37923f" stroke-width="1.5" stroke-linejoin="round"/>
<text x="649.3" y="229.1" font-size="9.4" fill="#4a4a4a" textLength="3.5" lengthAdjust="spacingAndGlyphs">1</text>
<text x="653.4" y="224.9" font-size="5.3" fill="#4a4a4a">er</text>
<text x="659.2" y="229.1" font-size="9.4" fill="#4a4a4a" textLength="29.4" lengthAdjust="spacingAndGlyphs">janvier</text>
<text x="649.3" y="239.4" font-size="9.4" fill="#4a4a4a" textLength="19.0" lengthAdjust="spacingAndGlyphs">2021</text>
<text x="719.5" y="229.1" font-size="9.4" fill="#4a4a4a" textLength="29.1" lengthAdjust="spacingAndGlyphs">19 août</text>
<text x="729.6" y="239.4" font-size="9.4" fill="#4a4a4a" textLength="19.0" lengthAdjust="spacingAndGlyphs">2021</text>
<text x="24.6" y="260.6" font-size="10.3" fill="#6b6b6b" textLength="114.7" lengthAdjust="spacingAndGlyphs">RECENSÉS EN UNE SEMAINE</text>
<text x="16.8" y="296.7" font-size="10.3" fill="#6b6b6b" textLength="131.5" lengthAdjust="spacingAndGlyphs">TENDANCE SUR DEUX SEMAINES</text>
<text x="45.1" y="338.1" font-size="10.3" fill="#6b6b6b" textLength="75.3" lengthAdjust="spacingAndGlyphs">TOTAL AU 21 AOÛT</text>
<text x="65.0" y="275.6" font-size="9.6" font-weight="bold" fill="#141414" textLength="35.2" lengthAdjust="spacingAndGlyphs">152 448</text>
<line x1="58.0" y1="272.2" x2="63.2" y2="272.2" stroke="#d9d9d9" stroke-width="1"/>
<line x1="102.2" y1="272.2" x2="107.4" y2="272.2" stroke="#d9d9d9" stroke-width="1"/>
<text x="221.1" y="275.6" font-size="9.6" font-weight="bold" fill="#141414" textLength="23.9" lengthAdjust="spacingAndGlyphs">6 128</text>
<line x1="214.1" y1="272.2" x2="219.3" y2="272.2" stroke="#d9d9d9" stroke-width="1"/>
<line x1="247.0" y1="272.2" x2="252.2" y2="272.2" stroke="#d9d9d9" stroke-width="1"/>
<text x="371.5" y="275.6" font-size="9.6" font-weight="bold" fill="#141414" textLength="23.9" lengthAdjust="spacingAndGlyphs">1 360</text>
<line x1="364.5" y1="272.2" x2="369.7" y2="272.2" stroke="#d9d9d9" stroke-width="1"/>
<line x1="397.4" y1="272.2" x2="402.6" y2="272.2" stroke="#d9d9d9" stroke-width="1"/>
<text x="526.0" y="275.6" font-size="9.6" font-weight="bold" fill="#141414" textLength="16.2" lengthAdjust="spacingAndGlyphs">636</text>
<line x1="519.0" y1="272.2" x2="524.2" y2="272.2" stroke="#d9d9d9" stroke-width="1"/>
<line x1="544.2" y1="272.2" x2="549.4" y2="272.2" stroke="#d9d9d9" stroke-width="1"/>
<text x="663.7" y="275.8" font-size="9.6" font-weight="bold" fill="#141414" textLength="42.1" lengthAdjust="spacingAndGlyphs">3 013 847</text>
<line x1="656.7" y1="272.4" x2="661.9" y2="272.4" stroke="#d9d9d9" stroke-width="1"/>
<line x1="707.8" y1="272.4" x2="713.0" y2="272.4" stroke="#d9d9d9" stroke-width="1"/>
<text x="61.1" y="352.8" font-size="9.6" font-weight="bold" fill="#141414" textLength="42.7" lengthAdjust="spacingAndGlyphs">6 602 311</text>
<line x1="54.1" y1="349.4" x2="59.3" y2="349.4" stroke="#d9d9d9" stroke-width="1"/>
<line x1="105.8" y1="349.4" x2="111.0" y2="349.4" stroke="#d9d9d9" stroke-width="1"/>
<text x="218.6" y="352.8" font-size="9.6" font-weight="bold" fill="#141414" textLength="28.8" lengthAdjust="spacingAndGlyphs">10 463</text>
<line x1="211.6" y1="349.4" x2="216.8" y2="349.4" stroke="#d9d9d9" stroke-width="1"/>
<line x1="249.4" y1="349.4" x2="254.6" y2="349.4" stroke="#d9d9d9" stroke-width="1"/>
<text x="371.9" y="352.8" font-size="9.6" font-weight="bold" fill="#141414" textLength="23.5" lengthAdjust="spacingAndGlyphs">2 106</text>
<line x1="364.9" y1="349.4" x2="370.1" y2="349.4" stroke="#d9d9d9" stroke-width="1"/>
<line x1="397.4" y1="349.4" x2="402.6" y2="349.4" stroke="#d9d9d9" stroke-width="1"/>
<text x="514.3" y="352.8" font-size="9.6" font-weight="bold" fill="#141414" textLength="39.6" lengthAdjust="spacingAndGlyphs">113 328*</text>
<line x1="507.3" y1="349.4" x2="512.5" y2="349.4" stroke="#d9d9d9" stroke-width="1"/>
<line x1="555.9" y1="349.4" x2="561.1" y2="349.4" stroke="#d9d9d9" stroke-width="1"/>
<text x="624.8" y="352.8" font-size="9.6" font-weight="bold" fill="#141414" textLength="48.0" lengthAdjust="spacingAndGlyphs">47 041 160</text>
<line x1="617.8" y1="349.4" x2="623.0" y2="349.4" stroke="#d9d9d9" stroke-width="1"/>
<line x1="674.8" y1="349.4" x2="680.0" y2="349.4" stroke="#d9d9d9" stroke-width="1"/>
<text x="696.0" y="352.8" font-size="9.6" font-weight="bold" fill="#141414" textLength="48.2" lengthAdjust="spacingAndGlyphs">40 550 261</text>
<line x1="689.0" y1="349.4" x2="694.2" y2="349.4" stroke="#d9d9d9" stroke-width="1"/>
<line x1="746.2" y1="349.4" x2="751.4" y2="349.4" stroke="#d9d9d9" stroke-width="1"/>
<text x="55.9" y="363.4" font-size="10" fill="#2e2e2e" textLength="53.8" lengthAdjust="spacingAndGlyphs">cas recensés</text>
<text x="207.8" y="363.4" font-size="10" fill="#2e2e2e" textLength="50.9" lengthAdjust="spacingAndGlyphs">lits occupés</text>
<text x="358.2" y="363.4" font-size="10" fill="#2e2e2e" textLength="50.9" lengthAdjust="spacingAndGlyphs">lits occupés</text>
<text x="522.1" y="363.4" font-size="10" fill="#2e2e2e" textLength="24.9" lengthAdjust="spacingAndGlyphs">décès</text>
<text x="672.1" y="286.1" font-size="10" fill="#2e2e2e" textLength="24.9" lengthAdjust="spacingAndGlyphs">doses</text>
<text x="626.5" y="363.6" font-size="10" fill="#2e2e2e" textLength="5.5" lengthAdjust="spacingAndGlyphs">1</text>
<text x="632.2" y="358.8" font-size="5" fill="#2e2e2e">ère</text>
<text x="642.3" y="363.6" font-size="10" fill="#2e2e2e" textLength="20.9" lengthAdjust="spacingAndGlyphs">dose</text>
<text x="663.8" y="362.2" font-size="8" fill="#2e2e2e" textLength="7.6" lengthAdjust="spacingAndGlyphs">**</text>
<text x="687.1" y="363.6" font-size="8.6" fill="#2e2e2e" textLength="67.9" lengthAdjust="spacingAndGlyphs">Totalement vaccinés</text>
<rect x="59.4" y="309" width="47.0" height="7.5" fill="#fdede5"/>
<text x="68.7" y="313.7" font-size="13.3" font-weight="bold" fill="#1f7a3c" textLength="28.3" lengthAdjust="spacingAndGlyphs">-8 %</text>
<rect x="202.6" y="309" width="61.0" height="7.5" fill="#fdede5"/>
<text x="213.3" y="313.7" font-size="13.3" font-weight="bold" fill="#cc1f2a" textLength="38.8" lengthAdjust="spacingAndGlyphs">+14 %</text>
<rect x="353.5" y="309" width="60.6" height="7.5" fill="#fdede5"/>
<text x="364.1" y="313.7" font-size="13.3" font-weight="bold" fill="#cc1f2a" textLength="39.7" lengthAdjust="spacingAndGlyphs">+12 %</text>
<rect x="504" y="309" width="61.0" height="7.5" fill="#fdede5"/>
<text x="514.7" y="313.7" font-size="13.3" font-weight="bold" fill="#cc1f2a" textLength="39.2" lengthAdjust="spacingAndGlyphs">+52 %</text>
<rect x="656.5" y="309" width="56.0" height="7.5" fill="#fdede5"/>
<text x="671.0" y="313.7" font-size="13.3" font-weight="bold" fill="#cc1f2a" textLength="28.6" lengthAdjust="spacingAndGlyphs">-6 %</text>
<text x="8.0" y="394.1" font-size="9.3" fill="#505050" textLength="111.9" lengthAdjust="spacingAndGlyphs">Source : Santé publique France</text>
<text x="166.3" y="394.0" font-size="9.3" fill="#505050" textLength="164.5" lengthAdjust="spacingAndGlyphs">*Incluent les décès recensés en Ehpad et EMS</text>
<text x="377.2" y="394.0" font-size="9.3" fill="#505050" textLength="228.9" lengthAdjust="spacingAndGlyphs">**Toutes les personnes ayant reçu au moins une dose de vaccin</text>
<g fill="#1d4e9e">
<text x="719.0" y="392.7" font-size="12.2" font-weight="bold" fill="#1d4e9e" textLength="27.0" lengthAdjust="spacingAndGlyphs" font-style="italic" stroke="#1d4e9e" stroke-width="0.6">AFP</text>
<circle cx="754.3" cy="388.1" r="6.8"/>
</g>
</g>
</svg>
</body></html>
